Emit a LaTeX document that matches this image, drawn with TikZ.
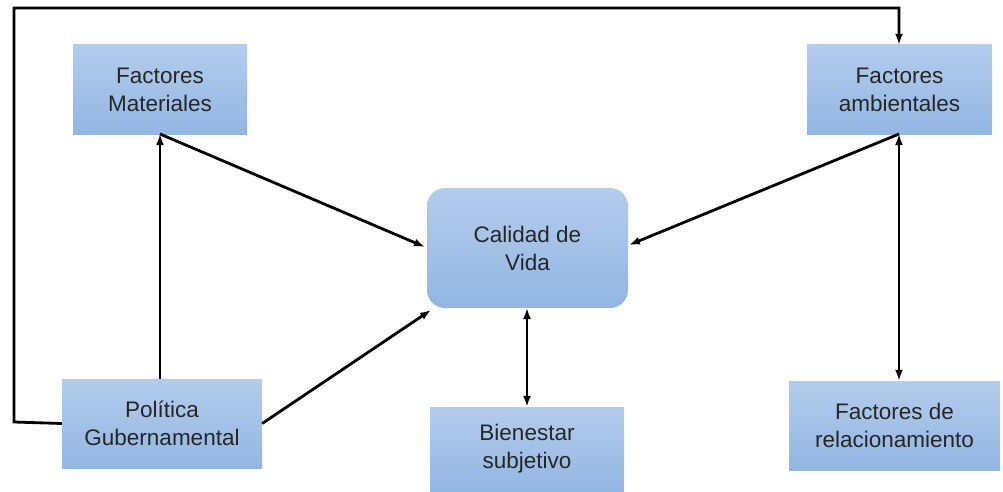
\documentclass[tikz,border=0pt]{standalone}
\usepackage{fontspec}
\setmainfont{Liberation Sans}
\usetikzlibrary{arrows.meta,positioning}
\begin{document}
\begin{tikzpicture}[x=1pt,y=-1pt,
  box/.style={draw=none, top color={rgb,255:red,180;green,204;blue,236}, bottom color={rgb,255:red,146;green,182;blue,226}, inner sep=0pt, align=center, font=\fontsize{22.5}{28}\selectfont, text=black!85},
  conn/.style={line width=2.8pt, -{Latex[length=11pt,width=8pt]}},
  both/.style={line width=2.8pt, {Latex[length=11pt,width=8pt]}-{Latex[length=11pt,width=8pt]}}]
\useasboundingbox (0,0) rectangle (1003,492);
\node[box, minimum width=174pt, minimum height=89pt] (fm) at (160,89.5) {Factores\\Materiales};
\node[box, minimum width=185pt, minimum height=89pt] (fa) at (899.5,89.5) {Factores\\ambientales};
\node[box, rounded corners=18pt, minimum width=201pt, minimum height=120pt] (cv) at (527.5,248) {Calidad de\\Vida};
\node[box, minimum width=200pt, minimum height=89pt] (pg) at (162,423.5) {Política\\Gubernamental};
\node[box, minimum width=194pt, minimum height=84pt] (bs) at (527,449) {Bienestar\\subjetivo};
\node[box, minimum width=211pt, minimum height=89pt] (fr) at (894.5,425.5) {Factores de\\relacionamiento};
\coordinate (fmb) at (160,134);
\coordinate (fab) at (899,134);
\draw[conn] (fmb |- pg.north) -- (fmb);
\draw[conn] (fmb) -- (425,247);
\draw[conn] (pg.east) -- (431,310);
\draw[conn] (fab) -- (629,245);
\draw[both] (fab) -- (fab |- fr.north);
\draw[both] (527,308) -- (bs.north -| 527,0);
\coordinate (c1) at (14,422);
\coordinate (c2) at (14,8);
\coordinate (c3) at (899,8);
\draw[conn, line join=miter] (pg.west) -- (c1) -- (c2) -- (c3) -- (fa.north -| c3);
\end{tikzpicture}
\end{document}
